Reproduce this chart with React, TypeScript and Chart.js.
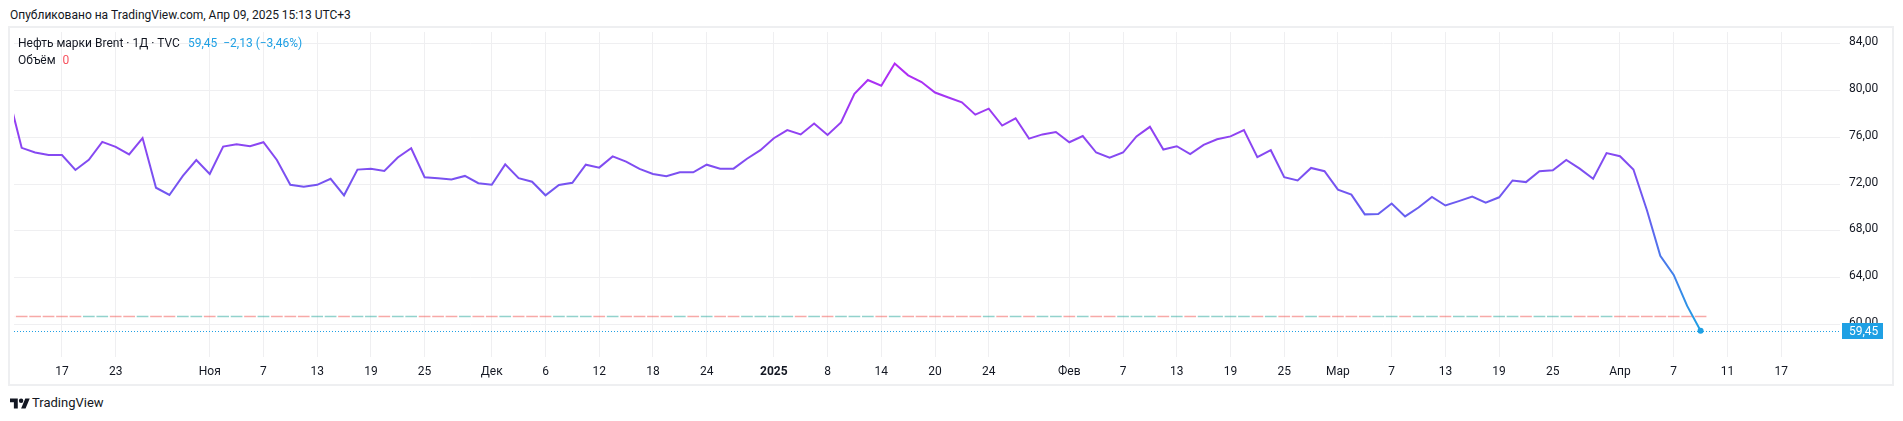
import React, { useEffect, useRef } from 'react';
import { Chart, registerables } from 'chart.js';

Chart.register(...registerables);

// ---- data ----
const calendarStart = '2024-10-11';
const calendarEnd = '2025-04-17';
const closedDays = ['2024-12-25', '2025-01-01'];
const lastDataDate = '2025-04-09';

// daily closes, Oct 11 2024 .. Apr 9 2025 (trading days)
const closes: number[] = [
  79.66, 75.10, 74.70, 74.48, 74.48, 73.21, 74.08, 75.61, 75.18, 74.54,
  75.94, 71.69, 71.07, 72.70, 74.06, 72.87, 75.21, 75.41, 75.24, 75.58,
  74.06, 71.94, 71.77, 71.94, 72.45, 71.04, 73.24, 73.32, 73.13, 74.28,
  75.07, 72.59, 72.51, 72.39, 72.70, 72.08, 71.94, 73.69, 72.51, 72.20,
  71.04, 71.92, 72.11, 73.66, 73.41, 74.37, 73.92, 73.30, 72.87, 72.68,
  73.01, 73.01, 73.66, 73.32, 73.32, 74.17, 74.90, 75.92, 76.62, 76.25,
  77.18, 76.20, 77.27, 79.72, 80.90, 80.42, 82.31, 81.30, 80.73, 79.83,
  79.41, 78.99, 77.94, 78.45, 77.01, 77.63, 75.89, 76.25, 76.45, 75.58,
  76.11, 74.70, 74.25, 74.70, 76.08, 76.90, 74.96, 75.24, 74.56, 75.35,
  75.83, 76.08, 76.62, 74.31, 74.90, 72.59, 72.31, 73.38, 73.10, 71.52,
  71.10, 69.41, 69.44, 70.34, 69.24, 70.00, 70.90, 70.17, 70.54, 70.93,
  70.42, 70.87, 72.31, 72.17, 73.10, 73.18, 74.06, 73.32, 72.45, 74.65,
  74.38, 73.25, 69.79, 65.86, 64.23, 61.58, 59.45,
];

// volume shown as 0 for every bar
const volumes: number[] = [
  0, 0, 0, 0, 0, 0, 0, 0, 0, 0, 0, 0, 0, 0, 0, 0, 0, 0, 0, 0,
  0, 0, 0, 0, 0, 0, 0, 0, 0, 0, 0, 0, 0, 0, 0, 0, 0, 0, 0, 0,
  0, 0, 0, 0, 0, 0, 0, 0, 0, 0, 0, 0, 0, 0, 0, 0, 0, 0, 0, 0,
  0, 0, 0, 0, 0, 0, 0, 0, 0, 0, 0, 0, 0, 0, 0, 0, 0, 0, 0, 0,
  0, 0, 0, 0, 0, 0, 0, 0, 0, 0, 0, 0, 0, 0, 0, 0, 0, 0, 0, 0,
  0, 0, 0, 0, 0, 0, 0, 0, 0, 0, 0, 0, 0, 0, 0, 0, 0, 0, 0, 0,
  0, 0, 0, 0, 0, 0, 0,
];

const tickDates = [
  '2024-10-17', '2024-10-23', '2024-11-01', '2024-11-07', '2024-11-13', '2024-11-19',
  '2024-11-25', '2024-12-02', '2024-12-06', '2024-12-12', '2024-12-18', '2024-12-24',
  '2025-01-02', '2025-01-08', '2025-01-14', '2025-01-20', '2025-01-24', '2025-02-03',
  '2025-02-07', '2025-02-13', '2025-02-19', '2025-02-25', '2025-03-03', '2025-03-07',
  '2025-03-13', '2025-03-19', '2025-03-25', '2025-04-01', '2025-04-07', '2025-04-11',
  '2025-04-17',
];
const tickLabels = [
  '17', '23', 'Ноя', '7', '13', '19',
  '25', 'Дек', '6', '12', '18', '24',
  '2025', '8', '14', '20', '24', 'Фев',
  '7', '13', '19', '25', 'Мар', '7',
  '13', '19', '25', 'Апр', '7', '11',
  '17',
];
const boldTickLabels = ['2025'];
const yTickValues = [60, 64, 68, 72, 76, 80, 84];

const symbolTitle = 'Нефть марки Brent · 1Д · TVC';
const volumeTitle = 'Объём';
const publishedText = 'Опубликовано на TradingView.com, Апр 09, 2025 15:13 UTC+3';

// ---- styles ----
const FONT = 'Roboto, "Noto Sans", sans-serif';
const TEXT = '#131722';
const GRID = '#efeff1';
const LAST_COLOR = '#1fa0e4';
const UP_VOL = 'rgba(38,166,154,0.5)';
const DOWN_VOL = 'rgba(239,83,80,0.5)';

function buildTradingDays(start: string, end: string, closed: string[]): string[] {
  const out: string[] = [];
  const d = new Date(start + 'T00:00:00Z');
  const e = new Date(end + 'T00:00:00Z');
  while (d <= e) {
    const wd = d.getUTCDay();
    const s = d.toISOString().slice(0, 10);
    if (wd !== 0 && wd !== 6 && !closed.includes(s)) out.push(s);
    d.setUTCDate(d.getUTCDate() + 1);
  }
  return out;
}

const fmt = (v: number) => v.toFixed(2).replace('.', ',').replace('-', '−');

export default function App() {
  const ref = useRef<HTMLCanvasElement>(null);

  const last = closes[closes.length - 1];
  const prev = closes[closes.length - 2];
  const chg = last - prev;
  const pct = (chg / prev) * 100;
  const changeText = `${fmt(last)}  ${chg < 0 ? '−' : '+'}${fmt(Math.abs(chg))} (${chg < 0 ? '−' : '+'}${fmt(Math.abs(pct))}%)`;

  useEffect(() => {
    if (!ref.current) return;
    const days = buildTradingDays(calendarStart, calendarEnd, closedDays);
    const lastIdx = days.indexOf(lastDataDate);
    const firstIdx = lastIdx - (closes.length - 1);
    const lineData = closes.map((v, i) => ({ x: firstIdx + i, y: v }));
    const volData = volumes.map((v, i) => ({ x: firstIdx + i, y: v }));
    const volColors = closes.map((v, i) => (i > 0 && v > closes[i - 1] ? UP_VOL : DOWN_VOL));
    const tickIdx = tickDates.map((d) => days.indexOf(d));
    const maxV = Math.max(...closes);

    const gradient = (c: any) => {
      const chart = c.chart;
      const { ctx, chartArea, scales } = chart;
      if (!chartArea) return '#7a4ff0';
      const g = ctx.createLinearGradient(0, scales.y.getPixelForValue(maxV), 0, scales.y.getPixelForValue(last));
      g.addColorStop(0, '#b42af4');
      g.addColorStop(0.54, '#6a5cf0');
      g.addColorStop(1, LAST_COLOR);
      return g;
    };

    const priceLine = {
      id: 'priceLine',
      beforeDatasetsDraw(chart: any) {
        const { ctx, chartArea, scales } = chart;
        const y = Math.round(scales.y.getPixelForValue(last)) + 0.5;
        ctx.save();
        ctx.strokeStyle = LAST_COLOR;
        ctx.lineWidth = 1;
        ctx.setLineDash([1, 2]);
        ctx.beginPath();
        ctx.moveTo(chartArea.left, y);
        ctx.lineTo(chartArea.right, y);
        ctx.stroke();
        ctx.restore();
      },
      afterDraw(chart: any) {
        const { ctx, chartArea, scales } = chart;
        const y = scales.y.getPixelForValue(last);
        const x0 = chartArea.right + 2;
        const w = 41;
        const h = 16;
        ctx.save();
        ctx.fillStyle = LAST_COLOR;
        ctx.fillRect(x0, Math.round(y - h / 2), w, h);
        ctx.fillStyle = '#ffffff';
        ctx.font = `12px ${FONT}`;
        ctx.textBaseline = 'middle';
        ctx.textAlign = 'left';
        ctx.fillText(fmt(last), x0 + 7, Math.round(y - h / 2) + h / 2 + 0.5);
        ctx.restore();
      },
    };

    const chart = new Chart(ref.current, {
      type: 'line',
      data: {
        datasets: [
          {
            type: 'line',
            data: lineData,
            borderColor: gradient,
            borderWidth: 2,
            tension: 0,
            pointRadius: (c: any) => (c.dataIndex === closes.length - 1 ? 3 : 0),
            pointBackgroundColor: LAST_COLOR,
            pointBorderWidth: 0,
            yAxisID: 'y',
            order: 1,
          } as any,
          {
            type: 'bar',
            data: volData,
            backgroundColor: volColors,
            yAxisID: 'yVol',
            minBarLength: 1.5,
            barPercentage: 0.87,
            categoryPercentage: 1,
            order: 2,
          } as any,
        ],
      },
      options: {
        animation: false,
        responsive: false,
        events: [],
        layout: { padding: 0 },
        plugins: { legend: { display: false }, tooltip: { enabled: false } },
        scales: {
          x: {
            type: 'linear',
            offset: false,
            min: firstIdx + 0.428,
            max: lastIdx + 10.38,
            grid: { color: GRID, drawTicks: false, lineWidth: 1, offset: false },
            border: { display: false },
            afterBuildTicks: (s: any) => {
              s.ticks = tickIdx.map((v) => ({ value: v }));
            },
            afterFit: (s: any) => {
              s.height = 27;
              s.paddingLeft = 0;
              s.paddingRight = 0;
            },
            ticks: {
              autoSkip: false,
              maxRotation: 0,
              minRotation: 0,
              padding: 8,
              color: TEXT,
              font: (c: any) => ({
                family: FONT,
                size: 12,
                weight: boldTickLabels.includes(tickLabels[c.index]) ? 'bold' : 'normal',
              }),
              callback: (v: any) => {
                const i = tickIdx.indexOf(v);
                return i >= 0 ? tickLabels[i] : '';
              },
            },
          },
          y: {
            position: 'right',
            min: 57.21,
            max: 85.01,
            grid: { color: GRID, drawTicks: false, lineWidth: 1 },
            border: { display: false },
            afterBuildTicks: (s: any) => {
              s.ticks = yTickValues.map((v) => ({ value: v }));
            },
            afterFit: (s: any) => {
              s.width = 52;
              s.paddingTop = 0;
              s.paddingBottom = 0;
            },
            ticks: {
              padding: 9,
              labelOffset: -1.5,
              color: TEXT,
              font: { family: FONT, size: 12 },
              callback: (v: any) => fmt(Number(v)),
            },
          },
          yVol: {
            display: false,
            min: -0.1424,
            max: 1,
          },
        },
      } as any,
      plugins: [priceLine],
    });
    return () => chart.destroy();
  }, []);

  return (
    <div
      style={{
        position: 'fixed',
        left: 0,
        top: 0,
        width: 1903,
        height: 421,
        background: '#ffffff',
        fontFamily: FONT,
        color: TEXT,
        overflow: 'hidden',
      }}
    >
      <div style={{ position: 'absolute', left: 10, top: 7, fontSize: 12, lineHeight: '16px', whiteSpace: 'nowrap' }}>
        {publishedText}
      </div>
      <div
        style={{
          position: 'absolute',
          left: 8,
          top: 26,
          width: 1886,
          height: 360,
          border: '2px solid #eeeff1',
          boxSizing: 'border-box',
        }}
      />
      <canvas
        ref={ref}
        width={1882}
        height={356}
        style={{ position: 'absolute', left: 10, top: 28, width: 1882, height: 356 }}
      />
      <div style={{ position: 'absolute', left: 18, top: 35, fontSize: 12, lineHeight: '16px', whiteSpace: 'pre' }}>
        <span>{symbolTitle}</span>
        <span style={{ color: LAST_COLOR, marginLeft: 8 }}>{changeText}</span>
      </div>
      <div style={{ position: 'absolute', left: 18, top: 52, fontSize: 12, lineHeight: '16px', whiteSpace: 'pre' }}>
        <span>{volumeTitle}</span>
        <span style={{ color: '#f7525f', marginLeft: 7 }}>0</span>
      </div>
      <svg
        style={{ position: 'absolute', left: 10, top: 396 }}
        width={20}
        height={16}
        viewBox="0 0 36 28"
      >
        <path d="M14 22H7V11H0V4h14v18zM28 22h-8l7.5-18h8L28 22z" fill={TEXT} />
        <circle cx={20} cy={8} r={4} fill={TEXT} />
      </svg>
      <div style={{ position: 'absolute', left: 32, top: 395, fontSize: 13, lineHeight: '16px' }}>TradingView</div>
    </div>
  );
}
